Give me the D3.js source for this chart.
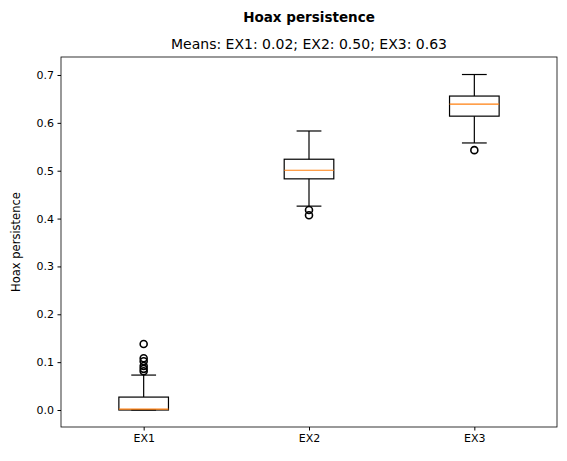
<!DOCTYPE html><html><head><script src="https://cdn.jsdelivr.net/npm/d3@7"></script>
<style>body{margin:0;background:#fff}text{font-family:"DejaVu Sans",sans-serif}</style></head><body><svg id="c" width="567" height="461"></svg>
<script>
const categories=["EX1","EX2","EX3"];
const q1=[0.0,0.483,0.614];
const medians=[0.002,0.501,0.639];
const q3=[0.027,0.524,0.656];
const whiskLo=[0.0,0.426,0.558];
const whiskHi=[0.073,0.583,0.701];
const outliers=[[0.138,0.108,0.102,0.092,0.086,0.081],[0.418,0.407],[0.543]];
const yTicks=[0,0.1,0.2,0.3,0.4,0.5,0.6,0.7];
const svg=d3.select("#c");
const L=61,R=557,T=57,B=427;
const x=d3.scaleLinear().domain([0.5,3.5]).range([L,R]);
const y=d3.scaleLinear().domain([-0.0355,0.7376]).range([B,T]);
svg.append("g").attr("transform",`translate(0,${B})`).call(d3.axisBottom(x).tickValues([1,2,3]).tickFormat((d,i)=>categories[i]).tickSizeOuter(0).tickSize(3.5).tickPadding(3.5)).call(g=>g.select(".domain").remove());
svg.append("g").attr("transform",`translate(${L},0)`).call(d3.axisLeft(y).tickValues(yTicks).tickFormat(d3.format(".1f")).tickSizeOuter(0).tickSize(3.5).tickPadding(3.5)).call(g=>g.select(".domain").remove());
svg.selectAll(".tick text").attr("font-size",11).attr("fill","#000");
svg.selectAll(".tick line").attr("stroke","#000");
svg.append("rect").attr("x",L).attr("y",T).attr("width",R-L).attr("height",B-T).attr("fill","none").attr("stroke","#000").attr("stroke-width",0.8);
const hw=0.15,cw=0.075;
categories.forEach((c,i)=>{
 const cx=i+1,g=svg.append("g").attr("stroke","#000").attr("fill","none").attr("stroke-width",1.2);
 g.append("line").attr("x1",x(cx)).attr("x2",x(cx)).attr("y1",y(q3[i])).attr("y2",y(whiskHi[i]));
 g.append("line").attr("x1",x(cx)).attr("x2",x(cx)).attr("y1",y(q1[i])).attr("y2",y(whiskLo[i]));
 [whiskHi[i],whiskLo[i]].forEach(v=>g.append("line").attr("x1",x(cx-cw)).attr("x2",x(cx+cw)).attr("y1",y(v)).attr("y2",y(v)));
 g.append("rect").attr("x",x(cx-hw)).attr("width",x(cx+hw)-x(cx-hw)).attr("y",y(q3[i])).attr("height",y(q1[i])-y(q3[i]));
 g.append("line").attr("x1",x(cx-hw)).attr("x2",x(cx+hw)).attr("y1",y(medians[i])).attr("y2",y(medians[i])).attr("stroke","#ff7f0e");
 outliers[i].forEach(v=>g.append("circle").attr("cx",x(cx)).attr("cy",y(v)).attr("r",3.5).attr("stroke-width",1.6));
});
svg.append("text").attr("x",309).attr("y",22).attr("text-anchor","middle").attr("font-size",13.5).attr("font-weight","bold").text("Hoax persistence");
svg.append("text").attr("x",309).attr("y",49).attr("text-anchor","middle").attr("font-size",14).text("Means: EX1: 0.02; EX2: 0.50; EX3: 0.63");
svg.append("text").attr("transform",`translate(20,${(T+B)/2}) rotate(-90)`).attr("text-anchor","middle").attr("font-size",11.5).text("Hoax persistence");
</script></body></html>
